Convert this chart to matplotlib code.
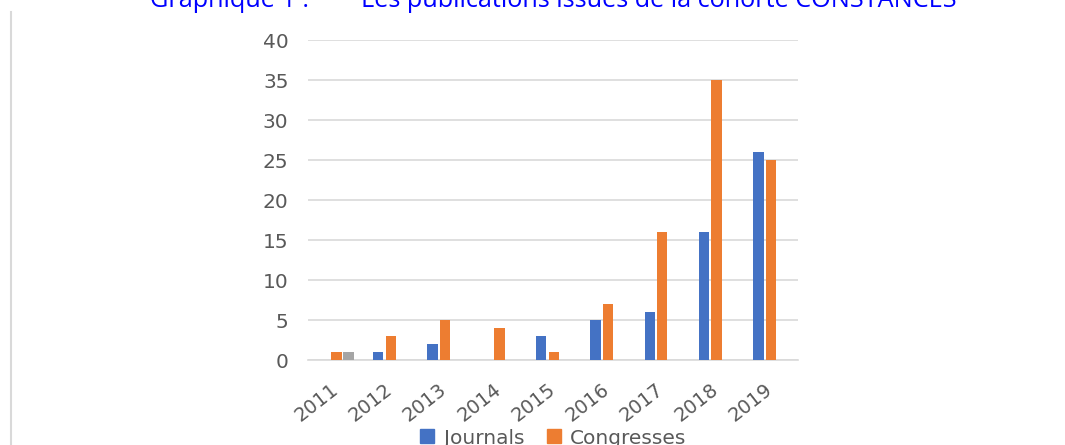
import matplotlib
matplotlib.use("Agg")
import matplotlib.pyplot as plt
from matplotlib.lines import Line2D
import matplotlib.transforms as mtransforms
import numpy as np

years = ["2011", "2012", "2013", "2014", "2015", "2016", "2017", "2018", "2019"]
journals = [0, 1, 2, 0, 3, 5, 6, 16, 26]
congresses = [1, 3, 5, 4, 1, 7, 16, 35, 25]
extra_gray = [1, 0, 0, 0, 0, 0, 0, 0, 0]
yticks = [0, 5, 10, 15, 20, 25, 30, 35, 40]
title = "Graphique 1 :        Les publications issues de la cohorte CONSTANCES"

plt.rcParams['font.family'] = ['DejaVu Sans']

W, H = 1065, 445
fig = plt.figure(figsize=(W/100, H/100), dpi=100)
ax = fig.add_axes([308/W, (H-360)/H, 490/W, 320/H])

x = np.arange(len(years))
bw = 0.19
ax.bar(x - 0.11, journals, bw, color="#4472C4", zorder=3)
ax.bar(x + 0.12, congresses, bw, color="#ED7D31", zorder=3)
ax.bar(x + 0.34, extra_gray, bw, color="#A5A5A5", zorder=3)

ax.set_xlim(-0.405, 8.62)
ax.set_ylim(0, 40)
ax.set_yticks(yticks)
ax.set_yticklabels([str(v) for v in yticks], fontsize=14.5, color="#595959")
ax.set_xticks(x)
ax.set_xticklabels(years, rotation=38, ha="right", rotation_mode="anchor",
                   fontsize=14, color="#595959")
offset = mtransforms.ScaledTranslation(12/100, 0, fig.dpi_scale_trans)
for lab in ax.get_xticklabels():
    lab.set_transform(lab.get_transform() + offset)
ax.tick_params(axis="both", length=0)
ax.tick_params(axis="y", pad=14)
ax.tick_params(axis="x", pad=14)
ax.grid(axis="y", color="#d9d9d9", linewidth=1.2, zorder=0)
for s in ["top", "right", "left"]:
    ax.spines[s].set_visible(False)
ax.spines["bottom"].set_color("#d9d9d9")
ax.spines["bottom"].set_linewidth(1.2)

handles = [Line2D([], [], marker="s", linestyle="none", markersize=10, color="#4472C4"),
           Line2D([], [], marker="s", linestyle="none", markersize=10, color="#ED7D31")]
fig.legend(handles, ["Journals", "Congresses"], loc="center",
           bbox_to_anchor=(549/W, 1 - 438/H), ncol=2, frameon=False,
           fontsize=14.5, labelcolor="#595959", handletextpad=0.0, columnspacing=0.7,
           handlelength=1.6)

fig.text(553/W, 1 - 7/H, title, ha="center", va="baseline", fontsize=18.2,
         color="#0000FF", family=["Open Sans", "DejaVu Sans"])

fig.add_artist(Line2D([10.5/W, 10.5/W], [0, 1 - 12/H], color="#d9d9d9",
                      linewidth=1.5, transform=fig.transFigure))

fig.savefig("out.png", dpi=100)
